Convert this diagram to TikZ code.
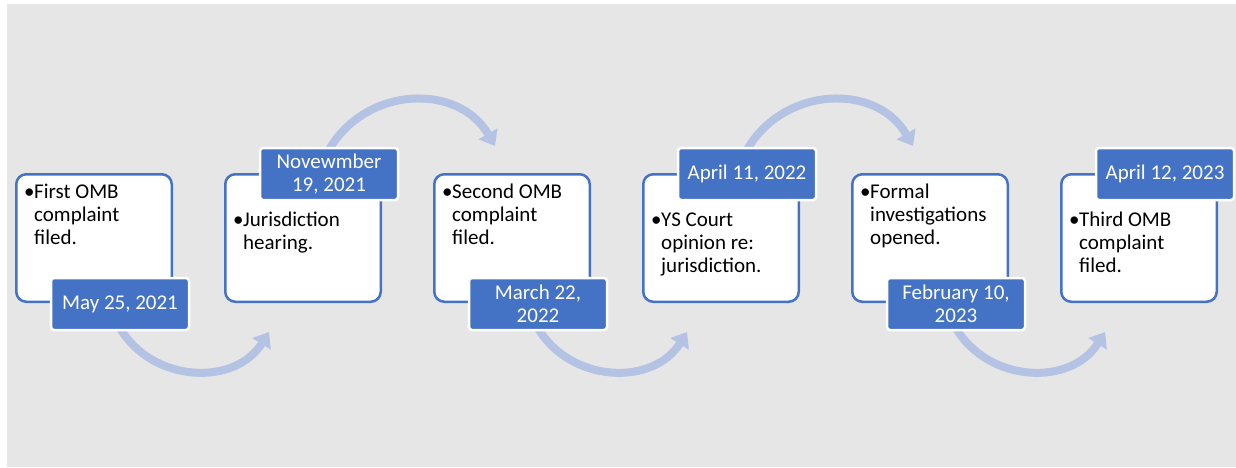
\documentclass[tikz,border=0pt]{standalone}
\usepackage{fontspec}
\setmainfont{Carlito}
\usetikzlibrary{arrows.meta}
\definecolor{bgrey}{HTML}{E7E6E6}
\definecolor{mblue}{HTML}{4472C4}
\definecolor{lblue}{HTML}{B4C2E3}
\pgfdeclarelayer{back}
\pgfsetlayers{back,main}
\newcommand\evitem[1]{\begin{tabular}[t]{@{}p{10pt}@{}l@{}}\textbullet&#1\end{tabular}}
\begin{document}
\begin{tikzpicture}[x=1pt,y=1pt,
  evbox/.style={draw=mblue, line width=2.5pt, fill=white, rounded corners=10pt, minimum width=155.5pt, minimum height=127.5pt, inner sep=0pt},
  datebox/.style={draw=white, line width=2.5pt, fill=mblue, rounded corners=3pt, minimum width=138pt, minimum height=52pt, inner sep=0pt, text=white, align=center, font=\fontsize{21}{23.3}\selectfont},
  evtext/.style={anchor=base west, inner sep=0pt, font=\fontsize{21}{23.3}\selectfont},
  flow/.style={draw=lblue, line width=8pt, -{Triangle[width=21pt,length=14pt]}}]
\useasboundingbox (0,0) rectangle (1236,467);
\begin{pgfonlayer}{back}
\fill[white] (0,0) rectangle (1236,467);
\fill[bgrey] (7,0) rectangle (1236,463);
\end{pgfonlayer}
\node[evbox] (b0) at (94,229){};
\node[evbox] (b1) at (303,229){};
\node[evbox] (b2) at (512,229){};
\node[evbox] (b3) at (721,229){};
\node[evbox] (b4) at (930,229){};
\node[evbox] (b5) at (1139,229){};
\node[evtext] (t0) at ([shift={(9,-25)}]b0.north west){\evitem{First OMB\\&complaint\\&filed.}};
\node[evtext] (t1) at ([shift={(9,-53)}]b1.north west){\evitem{Jurisdiction\\&hearing.}};
\node[evtext] (t2) at ([shift={(9,-25)}]b2.north west){\evitem{Second OMB\\&complaint\\&filed.}};
\node[evtext] (t3) at ([shift={(9,-53)}]b3.north west){\evitem{YS Court\\&opinion re:\\&jurisdiction.}};
\node[evtext] (t4) at ([shift={(9,-25)}]b4.north west){\evitem{Formal\\&investigations\\&opened.}};
\node[evtext] (t5) at ([shift={(9,-53)}]b5.north west){\evitem{Third OMB\\&complaint\\&filed.}};
\node[datebox] (d0) at (120,163){May 25, 2021};
\node[datebox] (d1) at (329,293){Novewmber\\19, 2021};
\node[datebox] (d2) at (538,163){March 22,\\2022};
\node[datebox] (d3) at (747,293){April 11, 2022};
\node[datebox] (d4) at (956,163){February 10,\\2023};
\node[datebox] (d5) at (1165,293){April 12, 2023};
\coordinate (h0) at ([shift={(45,-29)}]b1.south west);
\coordinate (h1) at ([shift={(62,27)}]b2.north west);
\coordinate (h2) at ([shift={(45,-29)}]b3.south west);
\coordinate (h3) at ([shift={(62,27)}]b4.north west);
\coordinate (h4) at ([shift={(45,-29)}]b5.south west);
\begin{pgfonlayer}{back}
\draw[flow] ([yshift=3]d0.south) to[out=-59, in=-122, looseness=1.1] (h0);
\draw[flow] ([yshift=-3]d1.north) to[out=60, in=120, looseness=1.13] (h1);
\draw[flow] ([yshift=3]d2.south) to[out=-59, in=-122, looseness=1.1] (h2);
\draw[flow] ([yshift=-3]d3.north) to[out=60, in=120, looseness=1.13] (h3);
\draw[flow] ([yshift=3]d4.south) to[out=-59, in=-122, looseness=1.1] (h4);
\end{pgfonlayer}
\end{tikzpicture}
\end{document}
